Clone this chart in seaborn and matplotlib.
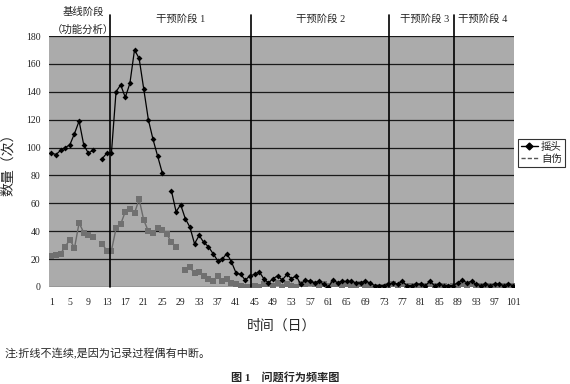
import numpy as np
import pandas as pd
import matplotlib
matplotlib.use("Agg")
import matplotlib.pyplot as plt
from matplotlib.lines import Line2D
import seaborn as sns

# ---------------- data ----------------
days = list(range(1, 102))
nan = np.nan
# 摇头 (head shaking)
shake = [96, 95, 98, 100, 102, 110, 119, 102, 96, 98,
         nan, 92, 96, 96, 140, 145, 136, 146, 170, 164,
         142, 120, 106, 94, 82, nan, 69, 54, 59, 49,
         43, 31, 37, 32, 29, 24, 19, 20, 24, 18,
         10, 9, 5, 8, 9, 11, 6, 3, 6, 8,
         5, 9, 6, 8, 2, 5, 4, 3, 4, 2,
         0, 5, 3, 4, 4, 4, 3, 3, 4, 3,
         1, 1, 1, 2, 3, 2, 4, 1, 1, 2,
         2, 1, 4, 1, 2, 1, 1, 1, 3, 5,
         3, 4, 2, 1, 2, 1, 2, 2, 1, 2, 1]
# 自伤 (self-injury)
injury = [22, 23, 24, 29, 34, 28, 46, 39, 37, 36,
          nan, 31, 26, 26, 42, 45, 54, 56, 53, 63,
          48, 40, 39, 42, 41, 38, 32, 29, nan, 12,
          14, 10, 11, 8, 6, 4, 8, 4, 6, 3,
          2, 1, 0, 0, 1, 0, 2, 2, 1, 3,
          0, 2, 1, 0, 2, 2, 3, 2, 1, 2,
          1, 2, 2, 1, 2, 1, 1, 2, 1, 1,
          0, 0, 0, 1, 2, 1, 2, 1, 1, 1,
          1, 1, 2, 1, 1, 1, 0, 1, 1, 2,
          1, 2, 1, 1, 1, 1, 1, 1, 1, 1, 1]
series_names = ["摇头", "自伤"]
xtick_days = list(range(1, 102, 4))
yticks = list(range(0, 181, 20))
phase_bounds = [13.6, 44.2, 74.1, 88.1]
phase_labels = ["干预阶段 1", "干预阶段 2", "干预阶段 3", "干预阶段 4"]

# ---------------- style ----------------
sns.set_style("white")
plt.rcParams['font.family'] = ['Liberation Serif', 'Noto Sans CJK SC', 'DejaVu Sans']

fig = plt.figure(figsize=(5.7, 3.84), dpi=100)
ax = fig.add_axes([49 / 570, 1 - 287 / 384, (514 - 49) / 570, (287 - 36) / 384])
ax.set_facecolor("#ababab")


def seg_frame(vals):
    df = pd.DataFrame({"day": days, "value": vals})
    df["seg"] = df["value"].isna().cumsum()
    return df.dropna()


df_s = seg_frame(shake)
df_i = seg_frame(injury)

sns.lineplot(data=df_i, x="day", y="value", units="seg", estimator=None,
             color="#6a6a6a", lw=1.0, marker="s", markersize=4,
             markeredgewidth=0, markerfacecolor="#707070", ax=ax, zorder=3)
sns.lineplot(data=df_s, x="day", y="value", units="seg", estimator=None,
             color="black", lw=0.9, marker="D", markersize=3,
             markeredgewidth=0, markerfacecolor="black", ax=ax, zorder=4)

ax.set_xlim(0.48, 101.2)
ax.set_ylim(0, 180)
ax.set_yticks(yticks)
ax.set_xticks(xtick_days)
ax.set_xticks(days, minor=True)
ax.tick_params(axis="y", length=0, labelsize=7, pad=6, colors="#222222")
ax.tick_params(axis="x", which="major", direction="in", length=2, labelsize=7,
               pad=8, colors="#222222")
ax.tick_params(axis="x", which="minor", direction="in", length=2, color="#eeeeee")
ax.grid(axis="y", color="#1a1a1a", lw=0.9)
ax.set_axisbelow(True)
for s in ax.spines.values():
    s.set_visible(False)

ax.set_xlabel("时间（日）", fontsize=10, labelpad=8, family=['Noto Sans CJK SC'])
ax.set_ylabel("数量（次）", fontsize=10, labelpad=8, family=['Noto Sans CJK SC'])

for b in phase_bounds:
    ax.axvline(b, ymin=0, ymax=(287 - 15) / 251, color="black", lw=1.2,
               clip_on=False, zorder=5)

cjk = ['Liberation Serif', 'Noto Sans CJK SC']
fig.text(83 / 570, 1 - 12 / 384, "基线阶段", ha="center", va="center", fontsize=7.5, family=cjk)
fig.text(83 / 570, 1 - 30 / 384, "（功能分析）", ha="center", va="center", fontsize=7.5, family=cjk)
for cx, lab in zip([181, 321, 425, 483], phase_labels):
    fig.text(cx / 570, 1 - 19 / 384, lab, ha="center", va="center", fontsize=7.5, family=cjk)

handles = [Line2D([], [], color="black", lw=1, marker="D", markersize=3.5),
           Line2D([], [], color="#555555", lw=1, ls=(0, (3, 1.5)))]
leg = fig.legend(handles, series_names, loc="upper left",
                 bbox_to_anchor=(518 / 570, 1 - 139 / 384), fontsize=7.5,
                 frameon=True, handlelength=1.6, handletextpad=0.3,
                 borderpad=0.3, labelspacing=0.2, borderaxespad=0,
                 fancybox=False, prop={'family': cjk, 'size': 7.5})
leg.get_frame().set_edgecolor("black")
leg.get_frame().set_linewidth(0.8)

fig.text(5 / 570, 1 - 354 / 384, "注:折线不连续,是因为记录过程偶有中断。",
         ha="left", va="center", fontsize=8, family=cjk)
fig.text(285 / 570, 1 - 377 / 384, "图 1　问题行为频率图",
         ha="center", va="center", fontsize=8, fontweight="bold", family=cjk)

fig.savefig("out.png", dpi=100)
